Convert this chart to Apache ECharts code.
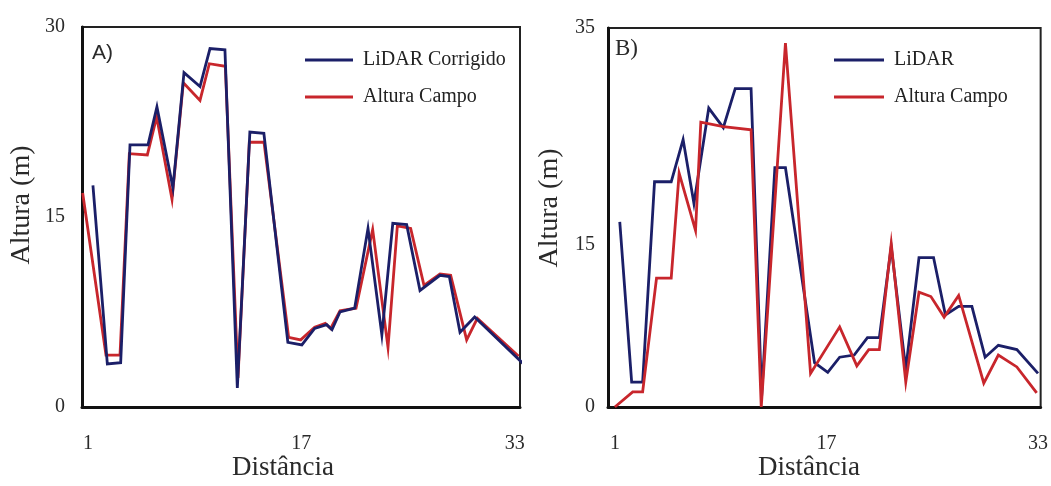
<!DOCTYPE html>
<html>
<head>
<meta charset="utf-8">
<script src="https://cdn.jsdelivr.net/npm/echarts@6/dist/echarts.min.js"></script>
<style>
  html, body { margin: 0; padding: 0; background: #fff; }
  #chart { width: 1051px; height: 486px; }
</style>
</head>
<body>
<div id="chart"></div>
<script>
// Panel A: corrected LiDAR height vs field height along the transect
const lidarA_x = [1.37, 2.45, 3.45, 4.15, 5.5, 6.17, 7.37, 8.2, 9.4, 10.15, 11.27, 12.2, 13.14, 14.19, 15.99, 17.04, 18.0, 18.9, 19.3, 19.9, 21.0, 22.0, 23.04, 23.86, 24.9, 25.9, 27.4, 28.1, 28.9, 30.0, 34.36];
const lidarA_y = [17.5, 3.4, 3.5, 20.7, 20.7, 23.7, 17.3, 26.4, 25.3, 28.3, 28.2, 1.5, 21.7, 21.6, 5.1, 4.9, 6.2, 6.5, 6.1, 7.5, 7.8, 14.1, 5.7, 14.5, 14.4, 9.2, 10.4, 10.3, 5.9, 7.1, 2.7];
const campoA_x = [0.6, 2.35, 3.4, 4.1, 5.45, 6.15, 7.3, 8.15, 9.4, 10.1, 11.3, 12.25, 13.1, 14.2, 16.05, 16.95, 18.0, 18.8, 19.2, 19.9, 21.1, 22.35, 23.5, 24.2, 25.2, 26.2, 27.4, 28.2, 29.4, 30.2, 33.3];
const campoA_y = [16.9, 4.1, 4.1, 20.0, 19.9, 22.9, 16.4, 25.6, 24.2, 27.1, 26.9, 2.3, 20.9, 20.9, 5.5, 5.3, 6.3, 6.6, 6.2, 7.6, 7.8, 14.0, 4.7, 14.3, 14.1, 9.6, 10.5, 10.4, 5.3, 7.0, 4.0];

// Panel B: raw LiDAR height vs field height
const lidarB_x = [1.37, 2.27, 3.1, 4.0, 5.26, 6.16, 6.98, 8.1, 9.2, 10.1, 11.3, 12.1, 13.1, 13.9, 16.1, 17.1, 18.0, 19.1, 20.1, 21.0, 21.9, 23.0, 24.0, 25.1, 26.0, 27.0, 28.0, 29.0, 30.0, 31.4, 33.0];
const lidarB_y = [17.1, 2.3, 2.3, 20.8, 20.8, 24.7, 18.8, 27.6, 25.8, 29.4, 29.4, 1.0, 22.1, 22.1, 4.1, 3.2, 4.6, 4.8, 6.4, 6.4, 14.8, 3.5, 13.8, 13.8, 8.5, 9.3, 9.3, 4.6, 5.7, 5.3, 3.1];
const campoB_x = [1.0, 2.35, 3.1, 4.15, 5.26, 5.86, 7.1, 7.5, 9.2, 11.3, 12.07, 13.9, 15.8, 18.0, 19.3, 20.2, 21.0, 21.9, 23.0, 24.0, 24.9, 25.9, 27.0, 28.9, 30.0, 31.4, 32.9];
const campoB_y = [0, 1.4, 1.4, 11.9, 11.9, 21.6, 16.3, 26.3, 25.9, 25.6, 0, 33.6, 3.1, 7.4, 3.8, 5.3, 5.3, 15.1, 2.3, 10.6, 10.2, 8.3, 10.3, 2.2, 4.8, 3.7, 1.3];

// Tick labels
const xTicks = [1, 17, 33];
const yTicksA = [0, 15, 30];
const yTicksB = [0, 15, 35];

const BLUE = '#1b1f68';
const RED = '#c8262c';
const SERIF = '"Liberation Serif", "DejaVu Serif", serif';
const TXT = '#2a2a2a';

const zip = (xs, ys) => xs.map((x, i) => [x, ys[i]]);

function xAxisFor(gridIndex, min, max) {
  return {
    type: 'value', gridIndex, min, max,
    splitLine: { show: false },
    axisTick: { show: false },
    axisLine: { show: true, onZero: false, lineStyle: { color: '#111', width: 3 } },
    axisLabel: { customValues: xTicks, margin: 27, fontFamily: SERIF, fontSize: 20, color: TXT }
  };
}
function yAxisFor(gridIndex, max, ticks, margin) {
  return {
    type: 'value', gridIndex, min: 0, max,
    splitLine: { show: false },
    axisTick: { show: false },
    axisLine: { show: true, onZero: false, lineStyle: { color: '#111', width: 3 } },
    axisLabel: { customValues: ticks, margin, fontFamily: SERIF, fontSize: 20, color: TXT }
  };
}
function lineSeries(name, idx, data, color, clip) {
  return {
    name, type: 'line', xAxisIndex: idx, yAxisIndex: idx, data,
    symbol: 'none', clip,
    lineStyle: { color, width: 2.8, join: 'miter' },
    itemStyle: { color },
    animation: false
  };
}
function legendFor(names, left, iconW) {
  return {
    data: names, orient: 'vertical', left, top: 45,
    icon: 'rect', itemWidth: iconW, itemHeight: 3, itemGap: 17,
    textStyle: { fontFamily: SERIF, fontSize: 20, color: '#222', padding: [0, 0, 0, 5] },
    selectedMode: false
  };
}

const chart = echarts.init(document.getElementById('chart'));
chart.setOption({
  backgroundColor: '#fff',
  animation: false,
  grid: [
    { left: 82, top: 27, width: 438, height: 380, show: true, borderColor: '#222', borderWidth: 2 },
    { left: 608, top: 28, width: 437, height: 379, show: true, borderColor: '#222', borderWidth: 2 }
  ],
  xAxis: [xAxisFor(0, 0.55, 33.4), xAxisFor(1, 0.48, 33.2)],
  yAxis: [yAxisFor(0, 30, yTicksA, 17), yAxisFor(1, 35, yTicksB, 13)],
  legend: [
    legendFor(['LiDAR Corrigido', 'Altura Campo'], 300, 48),
    legendFor(['LiDAR', 'Altura Campo '], 829, 50)
  ],
  series: [
    lineSeries('Altura Campo', 0, zip(campoA_x, campoA_y), RED, true),
    lineSeries('LiDAR Corrigido', 0, zip(lidarA_x, lidarA_y), BLUE, false),
    lineSeries('LiDAR', 1, zip(lidarB_x, lidarB_y), BLUE, true),
    lineSeries('Altura Campo ', 1, zip(campoB_x, campoB_y), RED, true)
  ],
  graphic: [
    { type: 'text', x: 92, y: 53, style: { text: 'A)', font: '21px "Liberation Sans", Arial, sans-serif', fill: TXT, textVerticalAlign: 'middle' } },
    { type: 'text', x: 615, y: 49, style: { text: 'B)', font: '23px ' + SERIF, fill: TXT, textVerticalAlign: 'middle' } },
    { type: 'text', x: 283, y: 468, style: { text: 'Distância', font: '27px ' + SERIF, fill: TXT, textAlign: 'center', textVerticalAlign: 'middle' } },
    { type: 'text', x: 809, y: 468, style: { text: 'Distância', font: '27px ' + SERIF, fill: TXT, textAlign: 'center', textVerticalAlign: 'middle' } },
    { type: 'text', x: 22, y: 205, rotation: Math.PI / 2, style: { text: 'Altura (m)', font: '28px ' + SERIF, fill: TXT, textAlign: 'center', textVerticalAlign: 'middle' } },
    { type: 'text', x: 550, y: 208, rotation: Math.PI / 2, style: { text: 'Altura (m)', font: '28px ' + SERIF, fill: TXT, textAlign: 'center', textVerticalAlign: 'middle' } }
  ]
});
</script>
</body>
</html>
